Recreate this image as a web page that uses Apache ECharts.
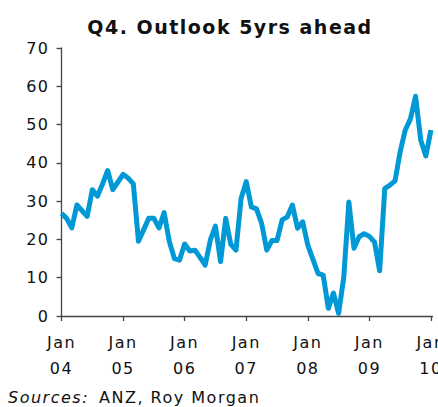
<!DOCTYPE html>
<html>
<head>
<meta charset="utf-8">
<style>
  html, body { margin: 0; padding: 0; background: #fff; }
  #chart { width: 438px; height: 407px; }
  #chart svg text { letter-spacing: 1.5px; }
</style>
<script src="https://cdn.jsdelivr.net/npm/echarts@6/dist/echarts.min.js"></script>
</head>
<body>
<div id="chart"></div>
<script>
// Monthly readings, Jan 2004 .. Jan 2010 (month index 0..72)
const outlookValues = [
  26.8, 25.5, 23.0, 29.0, 27.5, 26.0, 33.0, 31.3, 34.5, 38.0, 33.0, 35.0,
  37.0, 36.0, 34.5, 19.5, 22.5, 25.5, 25.5, 23.0, 27.0, 19.5, 15.0, 14.6,
  18.8, 17.0, 17.2, 15.3, 13.3, 19.8, 23.5, 14.2, 25.5, 18.7, 17.2, 30.7,
  35.1, 28.5, 28.0, 24.2, 17.2, 19.7, 19.7, 25.1, 25.9, 29.0, 22.9, 24.6,
  18.5, 14.8, 11.1, 10.7, 2.0, 6.0, 0.7, 10.0, 29.8, 17.7, 20.7, 21.5,
  20.8, 19.3, 11.8, 33.3, 34.2, 35.3, 42.9, 48.6, 51.5, 57.4, 46.0, 41.8,
  48.6
];
const tickPositions = [0, 12, 24, 36, 48, 60, 72];
const tickLabels = ['Jan\n04', 'Jan\n05', 'Jan\n06', 'Jan\n07', 'Jan\n08', 'Jan\n09', 'Jan\n10'];
const yTicks = { min: 0, max: 70, interval: 10 };

const seriesData = outlookValues.map((v, i) => [i, v]);
const FONT = 'DejaVu Sans';
const axisColor = '#444';

const chart = echarts.init(document.getElementById('chart'), null, { renderer: 'svg' });
chart.setOption({
  animation: false,
  backgroundColor: '#ffffff',
  title: {
    text: 'Q4. Outlook 5yrs ahead',
    left: 225, top: 12, textAlign: 'center',
    textStyle: { fontFamily: FONT, fontWeight: 'bold', fontSize: 19, color: '#111' }
  },
  graphic: [
    {
      type: 'text', left: 8, top: 389,
      style: { text: 'Sources:', fontFamily: FONT, fontStyle: 'italic', fontSize: 16, fill: '#111' }
    },
    {
      type: 'text', left: 99, top: 389,
      style: { text: 'ANZ, Roy Morgan', fontFamily: FONT, fontSize: 16, fill: '#111' }
    }
  ],
  grid: { left: 61.5, right: 5.5, top: 48, bottom: 91, containLabel: false, outerBoundsMode: 'none' },
  xAxis: {
    type: 'value', min: 0, max: 72.3,
    splitLine: { show: false },
    axisLine: { show: true, lineStyle: { color: axisColor, width: 1.3 } },
    axisTick: { show: true, length: 5, customValues: tickPositions, lineStyle: { color: axisColor, width: 1.3 } },
    axisLabel: {
      show: true, margin: 13, customValues: tickPositions,
      fontFamily: FONT, fontSize: 16, lineHeight: 26, color: '#111',
      formatter: (val) => { const k = tickPositions.indexOf(Math.round(val)); return k >= 0 ? tickLabels[k] : ''; }
    }
  },
  yAxis: {
    type: 'value', min: yTicks.min, max: yTicks.max, interval: yTicks.interval,
    splitLine: { show: false },
    axisLine: { show: true, lineStyle: { color: axisColor, width: 1.3 } },
    axisTick: { show: true, length: 5, lineStyle: { color: axisColor, width: 1.3 } },
    axisLabel: { margin: 12, fontFamily: FONT, fontSize: 16, color: '#111' }
  },
  series: [{
    type: 'line', data: seriesData, symbol: 'none', smooth: false,
    lineStyle: { color: '#0099d6', width: 5, join: 'round' },
    clip: false
  }]
});
</script>
</body>
</html>
